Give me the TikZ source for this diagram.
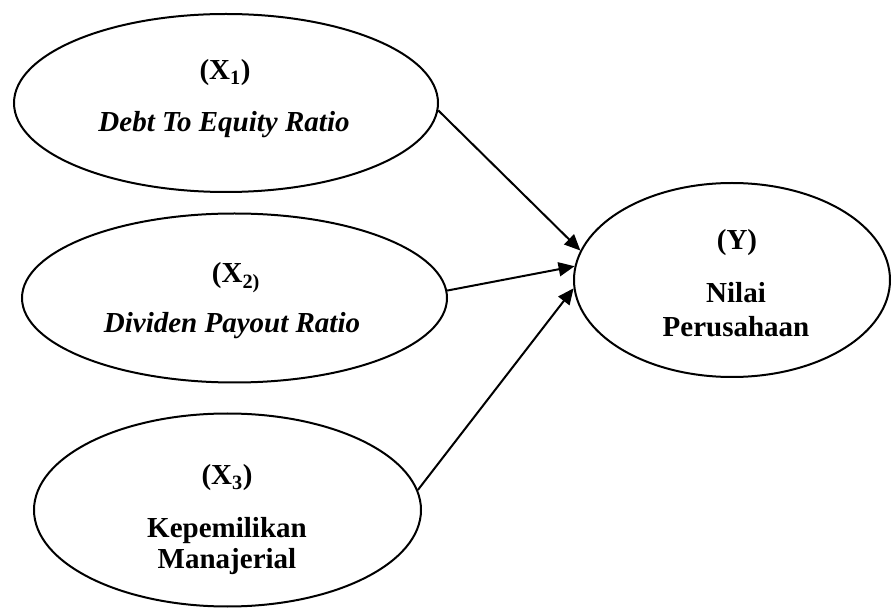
\documentclass[tikz,border=0pt]{standalone}
\usepackage{fontspec}
\setmainfont{Liberation Serif}
\usetikzlibrary{shapes.geometric,arrows.meta}
\begin{document}
\begin{tikzpicture}[x=1pt,y=-1pt,
  var/.style={ellipse,draw,line width=2pt,inner sep=0pt},
  lbl/.style={anchor=base,inner sep=0pt,font=\fontsize{29}{33}\selectfont\bfseries},
  ilbl/.style={anchor=base,inner sep=0pt,font=\fontsize{29}{33}\selectfont\bfseries\itshape},
  arr/.style={line width=2pt,-{Triangle[length=16pt,width=14pt]}}]
\useasboundingbox (0,0) rectangle (892,609);
% ellipses
\node[var,minimum width=424pt,minimum height=178pt] (x1) at (226,103) {};
\node[var,minimum width=425pt,minimum height=169pt] (x2) at (234.5,298) {};
\node[var,minimum width=387pt,minimum height=193pt] (x3) at (227.5,510) {};
\node[var,minimum width=316pt,minimum height=194pt] (y) at (732,280) {};
% labels
\node[lbl]  (x1a) at (225,80)  {(X\textsubscript{1})};
\node[ilbl] (x1b) at (224,132) {Debt To Equity Ratio};
\node[lbl]  (x2a) at (236,283) {(X\textsubscript{2)}};
\node[ilbl] (x2b) at (232,333) {Dividen Payout Ratio};
\node[lbl]  (x3a) at (227,485) {(X\textsubscript{3})};
\node[lbl]  (x3b) at (227,537) {Kepemilikan};
\node[lbl]  (x3c) at (227,568) {Manajerial};
\node[lbl]  (ya)  at (737,250) {(Y)};
\node[lbl]  (yb)  at (736,303) {Nilai};
\node[lbl]  (yc)  at (736,337) {Perusahaan};
% arrows
\draw[arr] (x1.-2.4) -- (y.169);
\draw[arr] (x2.2.1) -- (y.175);
\draw[arr] (x3.6.8) -- (y.183.6);
\end{tikzpicture}
\end{document}
